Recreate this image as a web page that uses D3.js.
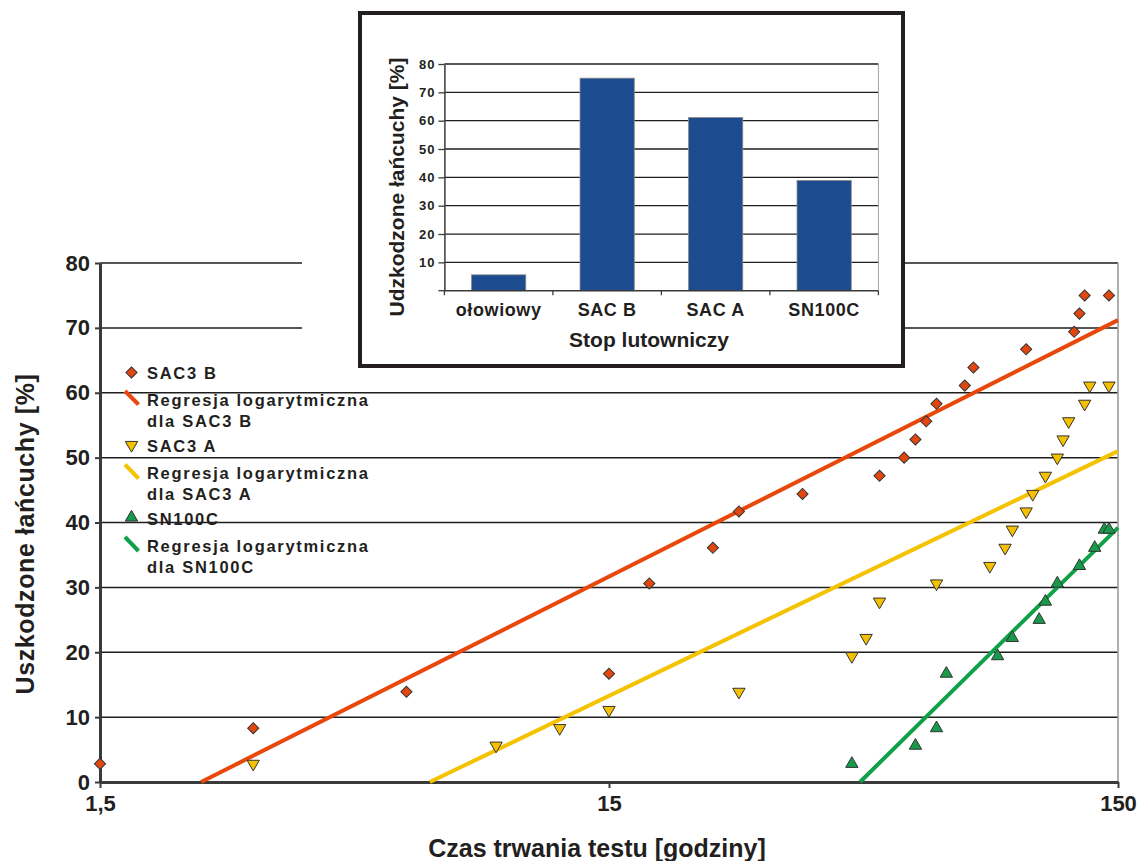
<!DOCTYPE html>
<html>
<head>
<meta charset="utf-8">
<script src="https://cdn.jsdelivr.net/npm/d3@7"></script>
<style>
  html, body { margin: 0; padding: 0; background: #fff; }
  svg { display: block; }
  text { font-family: "Liberation Sans", Arial, sans-serif; font-weight: bold; fill: #231f20; }
</style>
</head>
<body>
<svg id="chart" width="1141" height="861"></svg>
<script>
// Test time [hours] and cumulative share of failed daisy chains [%]
const sac3bTimes  = [1.5, 3, 6, 15, 18, 24, 27, 36, 51, 57, 60, 63, 66, 75, 78, 99, 123, 126, 129, 144];
const sac3bValues = [2.8, 8.3, 13.9, 16.7, 30.6, 36.1, 41.7, 44.4, 47.2, 50.0, 52.8, 55.6, 58.3, 61.1, 63.9, 66.7, 69.4, 72.2, 75.0, 75.0];

const sac3aTimes  = [3, 9, 12, 15, 27, 45, 48, 51, 66, 84, 90, 93, 99, 102, 108, 114, 117, 120, 129, 132, 144];
const sac3aValues = [2.8, 5.6, 8.3, 11.1, 13.9, 19.4, 22.2, 27.8, 30.6, 33.3, 36.1, 38.9, 41.7, 44.4, 47.2, 50.0, 52.8, 55.6, 58.3, 61.1, 61.1];

const sn100cTimes  = [45, 60, 66, 69, 87, 93, 105, 108, 114, 126, 135, 141, 144];
const sn100cValues = [2.8, 5.6, 8.3, 16.7, 19.4, 22.2, 25.0, 27.8, 30.6, 33.3, 36.1, 38.9, 38.9];

// Logarithmic regression lines: [time, value] at both ends
const regSac3b  = [[2.37, 0], [150, 71.2]];
const regSac3a  = [[6.67, 0], [150, 51.0]];
const regSn100c = [[46.7, 0], [150, 39.2]];

// Axis ticks
const xTickValues = [1.5, 15, 150];
const xTickLabels = ["1,5", "15", "150"];
const yTickValues = [0, 10, 20, 30, 40, 50, 60, 70, 80];

// Inset bar chart: failed chains per solder alloy
const alloyNames  = ["ołowiowy", "SAC B", "SAC A", "SN100C"];
const alloyValues = [5.6, 75.0, 61.1, 38.9];
const insetTicks  = [10, 20, 30, 40, 50, 60, 70, 80];

const seriesNames = ["SAC3 B", "SAC3 A", "SN100C"];

const colors = {
  sac3b: "#e2470f", sac3bLine: "#e8480c",
  sac3a: "#f5c000", sac3aLine: "#f5c200",
  sn100c: "#19994a", sn100cLine: "#0fa048",
  bar: "#1d4b8f", ink: "#231f20"
};

const svg = d3.select("#chart");

// ---------- main chart ----------
const x = d3.scaleLog().domain([1.5, 150]).range([100, 1118]);
const y = d3.scaleLinear().domain([0, 80]).range([782, 263]);

const grid = svg.append("g");
grid.selectAll("line").data(yTickValues.filter(v => v > 0)).join("line")
  .attr("x1", x(1.5)).attr("x2", x(150))
  .attr("y1", d => y(d)).attr("y2", d => y(d))
  .attr("stroke", "#1e1e1e").attr("stroke-width", 1.5);

svg.append("line")
  .attr("x1", x(150)).attr("x2", x(150))
  .attr("y1", y(80)).attr("y2", y(0))
  .attr("stroke", "#9b9b9b").attr("stroke-width", 1.6);

const yAxis = svg.append("g").attr("transform", `translate(${x(1.5)},0)`)
  .call(d3.axisLeft(y).tickValues(yTickValues).tickSize(5).tickSizeOuter(0).tickPadding(5));
const xAxis = svg.append("g").attr("transform", `translate(0,${y(0)})`)
  .call(d3.axisBottom(x).tickValues(xTickValues).tickFormat((d, i) => xTickLabels[i])
    .tickSize(6).tickSizeOuter(0).tickPadding(7));

[yAxis, xAxis].forEach(a => {
  a.select(".domain").attr("stroke", "#3a3a3a").attr("stroke-width", 3);
  a.selectAll(".tick line").attr("stroke", "#3a3a3a").attr("stroke-width", 2);
  a.selectAll(".tick text").attr("font-size", 22).attr("font-family", null)
    .style("font-family", '"Liberation Sans", Arial, sans-serif').style("font-weight", "bold")
    .attr("fill", colors.ink);
});

svg.append("text")
  .attr("transform", "translate(34,534) rotate(-90)")
  .attr("text-anchor", "middle").attr("font-size", 25).attr("letter-spacing", 0.6)
  .text("Uszkodzone łańcuchy [%]");

svg.append("text")
  .attr("x", 597).attr("y", 857)
  .attr("text-anchor", "middle").attr("font-size", 25)
  .text("Czas trwania testu [godziny]");

// regression lines
const line = d3.line().x(d => x(d[0])).y(d => y(d[1]));
[[regSac3b, colors.sac3bLine], [regSac3a, colors.sac3aLine], [regSn100c, colors.sn100cLine]]
  .forEach(([pts, c]) => {
    svg.append("path").datum(pts).attr("d", line)
      .attr("fill", "none").attr("stroke", c).attr("stroke-width", 4);
  });

// markers
const diamond = d3.symbol(d3.symbolSquare, 62)();
const triangle = d3.symbol(d3.symbolTriangle, 66)();

function zip(ts, vs) { return ts.map((t, i) => ({ t, v: vs[i] })); }

svg.append("g").selectAll("path").data(zip(sac3bTimes, sac3bValues)).join("path")
  .attr("d", diamond)
  .attr("transform", d => `translate(${x(d.t)},${y(d.v)}) rotate(45)`)
  .attr("fill", colors.sac3b).attr("stroke", "#333").attr("stroke-width", 1);

svg.append("g").selectAll("path").data(zip(sac3aTimes, sac3aValues)).join("path")
  .attr("d", triangle)
  .attr("transform", d => `translate(${x(d.t)},${y(d.v)}) rotate(180)`)
  .attr("fill", colors.sac3a).attr("stroke", "#333").attr("stroke-width", 1);

svg.append("g").selectAll("path").data(zip(sn100cTimes, sn100cValues)).join("path")
  .attr("d", triangle)
  .attr("transform", d => `translate(${x(d.t)},${y(d.v)})`)
  .attr("fill", colors.sn100c).attr("stroke", "#333").attr("stroke-width", 1);

// ---------- legend ----------
const legend = svg.append("g");
const legendText = (ty, s) => legend.append("text")
  .attr("x", 147).attr("y", ty).attr("font-size", 16.5).attr("letter-spacing", 1.7).text(s);

legend.append("path").attr("d", diamond).attr("transform", "translate(131.5,372.5) rotate(45)")
  .attr("fill", colors.sac3b).attr("stroke", "#333");
legendText(378.5, seriesNames[0]);
legend.append("line").attr("x1", 125).attr("y1", 391).attr("x2", 138.5).attr("y2", 404.5)
  .attr("stroke", colors.sac3bLine).attr("stroke-width", 4);
legendText(405.5, "Regresja logarytmiczna");
legendText(426.5, "dla " + seriesNames[0]);

legend.append("path").attr("d", triangle).attr("transform", "translate(131.5,445) rotate(180)")
  .attr("fill", colors.sac3a).attr("stroke", "#333");
legendText(451.5, seriesNames[1]);
legend.append("line").attr("x1", 125).attr("y1", 464.5).attr("x2", 138.5).attr("y2", 478.5)
  .attr("stroke", colors.sac3aLine).attr("stroke-width", 4);
legendText(478.5, "Regresja logarytmiczna");
legendText(499.5, "dla " + seriesNames[1]);

legend.append("path").attr("d", triangle).attr("transform", "translate(131.5,517.5)")
  .attr("fill", colors.sn100c).attr("stroke", "#333");
legendText(525, seriesNames[2]);
legend.append("line").attr("x1", 125).attr("y1", 537).attr("x2", 138.5).attr("y2", 551)
  .attr("stroke", colors.sn100cLine).attr("stroke-width", 4);
legendText(551.5, "Regresja logarytmiczna");
legendText(572.5, "dla " + seriesNames[2]);

// ---------- inset bar chart ----------
const inset = svg.append("g");
inset.append("rect").attr("x", 302).attr("y", 0).attr("width", 603).attr("height", 368).attr("fill", "#fff");
inset.append("rect").attr("x", 360).attr("y", 13).attr("width", 543).attr("height", 353)
  .attr("fill", "#fff").attr("stroke", colors.ink).attr("stroke-width", 4);

const bx = d3.scaleBand().domain(alloyNames).range([444.4, 878.4]).paddingInner(0.5).paddingOuter(0.25);
const by = d3.scaleLinear().domain([0, 80]).range([290.7, 64]);

inset.append("g").selectAll("line").data(insetTicks).join("line")
  .attr("x1", 444.4).attr("x2", 878.4).attr("y1", d => by(d)).attr("y2", d => by(d))
  .attr("stroke", "#1e1e1e").attr("stroke-width", 1.3);
inset.append("line").attr("x1", 878.4).attr("x2", 878.4).attr("y1", by(80)).attr("y2", by(0))
  .attr("stroke", "#a0a0a0").attr("stroke-width", 1);

inset.append("g").selectAll("rect").data(alloyNames).join("rect")
  .attr("x", d => bx(d)).attr("width", bx.bandwidth())
  .attr("y", (d, i) => by(alloyValues[i])).attr("height", (d, i) => by(0) - by(alloyValues[i]))
  .attr("fill", colors.bar).attr("stroke", "#8a8a8a").attr("stroke-width", 0.8);

const iy = inset.append("g").attr("transform", "translate(444.4,0)")
  .call(d3.axisLeft(by).tickValues(insetTicks).tickSize(6).tickSizeOuter(0).tickPadding(3));
iy.select(".domain").attr("stroke", "#3a3a3a").attr("stroke-width", 1.5);
iy.selectAll(".tick line").attr("stroke", "#3a3a3a").attr("stroke-width", 1.3);
iy.selectAll(".tick text").attr("font-size", 13).attr("font-family", null)
  .attr("letter-spacing", 1).attr("fill", colors.ink);
// small tick below the value axis at zero
inset.append("line").attr("x1", 438.4).attr("x2", 444.4).attr("y1", by(0)).attr("y2", by(0))
  .attr("stroke", "#3a3a3a").attr("stroke-width", 1.3);

// category axis with ticks on band boundaries
inset.append("line").attr("x1", 444.4).attr("x2", 878.4).attr("y1", by(0)).attr("y2", by(0))
  .attr("stroke", "#3a3a3a").attr("stroke-width", 1.5);
const boundaries = alloyNames.map(d => bx(d) - bx.step() * 0.25).concat([878.4]);
inset.append("g").selectAll("line").data(boundaries).join("line")
  .attr("x1", d => d).attr("x2", d => d).attr("y1", by(0)).attr("y2", by(0) + 4.5)
  .attr("stroke", "#3a3a3a").attr("stroke-width", 1.3);
inset.append("g").selectAll("text").data(alloyNames).join("text")
  .attr("x", d => bx(d) + bx.bandwidth() / 2).attr("y", 316)
  .attr("text-anchor", "middle").attr("font-size", 18).attr("letter-spacing", 0.6)
  .text(d => d);

inset.append("text").attr("x", 649).attr("y", 347).attr("text-anchor", "middle")
  .attr("font-size", 21).text("Stop lutowniczy");
inset.append("text").attr("transform", "translate(404,187) rotate(-90)")
  .attr("text-anchor", "middle").attr("font-size", 21).text("Udzkodzone łańcuchy [%]");
</script>
</body>
</html>
